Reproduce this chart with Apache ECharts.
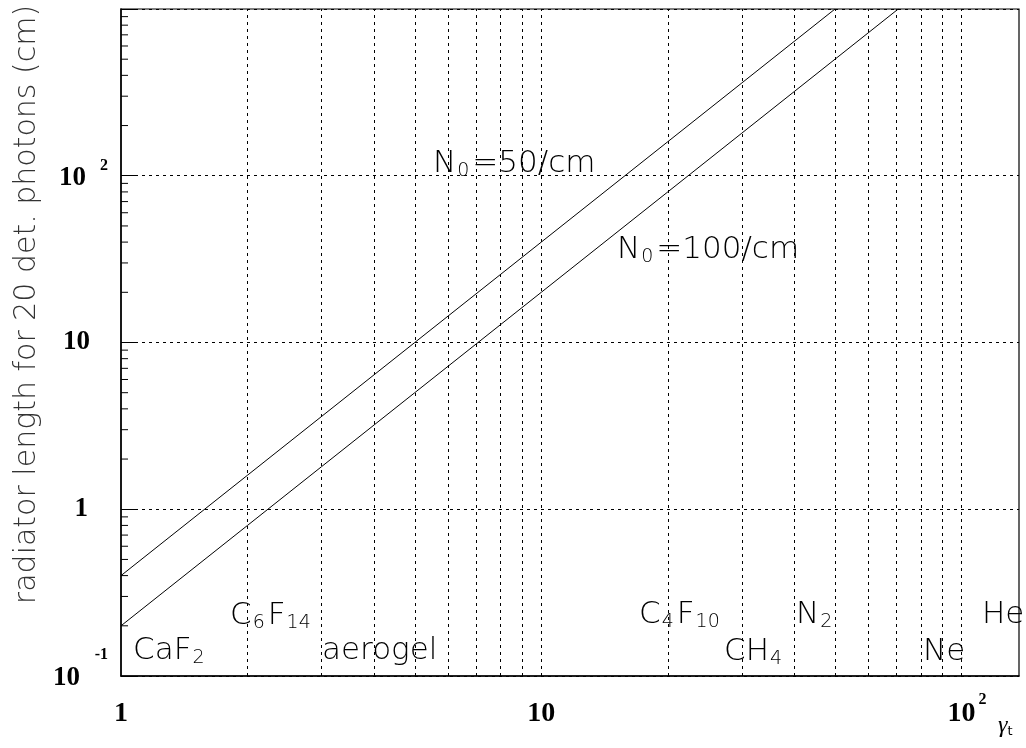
<!DOCTYPE html>
<html>
<head>
<meta charset="utf-8">
<script src="https://cdn.jsdelivr.net/npm/echarts@6/dist/echarts.min.js"></script>
<style>
  html, body { margin: 0; padding: 0; background: #fff; }
  #chart { width: 1026px; height: 748px; }
</style>
</head>
<body>
<div id="chart"></div>
<script>
// Radiator length needed for 20 detected photons vs. threshold gamma
const gammaN50 = [1, 2, 3, 5, 10, 20, 30, 50];
const lengthN50 = [0.4, 1.6, 3.6, 10, 40, 160, 360, 1000];
const gammaN100 = [1, 2, 3, 5, 10, 20, 30, 50, 70.7];
const lengthN100 = [0.2, 0.8, 1.8, 5, 20, 80, 180, 500, 1000];

// Dotted vertical grid at every 1..9 multiple of each decade
const gridGammas = [2, 3, 4, 5, 6, 7, 8, 9, 10, 20, 30, 40, 50, 60, 70, 80, 90, 100];
// Minor ticks on the length axis
const minorLengths = [0.2, 0.3, 0.4, 0.5, 0.6, 0.7, 0.8, 0.9,
                      2, 3, 4, 5, 6, 7, 8, 9,
                      20, 30, 40, 50, 60, 70, 80, 90,
                      200, 300, 400, 500, 600, 700, 800, 900];

// Tick labels
const xTickLabels = { 1: '{b|1}', 10: '{b|10}', 100: '{bx|10}{sx|2}' };
const yTickLabels = { 0.1: '{sm|-1}\n{bm|10}', 1: '{b1|1}', 10: '{b10|10}', 100: '{b|10}{s|2}' };

// Radiator names
const radiatorLabels = [
  '{t|CaF}{u|2}', '{t|C}{u|6}{t|F}{u|14}', '{t|aerogel}',
  '{t|C}{u|4}{t|F}{u|10}', '{t|CH}{u|4}', '{t|N}{u|2}', '{t|Ne}', '{t|He}'
];
const curveLabels = ['{t|N}{u|0}{t|=50/cm}', '{t|N}{u|0}{t|=100/cm}'];

const serif = 'Liberation Serif';
const thin = 'DejaVu Sans';
const thinColor = '#333';

function matchKey(map, v) {
  for (const k in map) {
    if (Math.abs(Math.log10(v) - Math.log10(+k)) < 1e-6) return map[k];
  }
  return '';
}

const textRich = {
  t: { fontFamily: thin, fontWeight: 200, fontSize: 31, color: thinColor, lineHeight: 34 },
  u: { fontFamily: thin, fontWeight: 200, fontSize: 19, color: thinColor, lineHeight: 4, verticalAlign: 'bottom', padding: [0, 3, 0, 1] }
};

function textEl(str, x, y) {
  return {
    type: 'text', x: x, y: y, silent: true,
    style: { text: str, rich: textRich, align: 'left', verticalAlign: 'middle' }
  };
}

const labelPos = [
  [133, 651], [230, 616], [322, 651], [639, 615],
  [724, 652], [796, 615], [923, 652], [982, 615]
];

const bold = { fontFamily: serif, fontWeight: 'bold', color: '#000' };

const chart = echarts.init(document.getElementById('chart'));
chart.setOption({
  animation: false,
  backgroundColor: '#fff',
  grid: {
    left: 121, top: 9, right: 7, bottom: 72,
    outerBoundsMode: 'none', containLabel: false,
    show: true, borderColor: '#000', borderWidth: 1.2
  },
  xAxis: {
    type: 'log', logBase: 10, min: 1, max: 137,
    axisLine: { show: true, lineStyle: { color: '#000', width: 1.5 } },
    axisTick: { show: false },
    splitLine: { show: false },
    axisLabel: {
      margin: 16,
      formatter: v => matchKey(xTickLabels, v),
      rich: {
        b: { ...bold, fontSize: 28, lineHeight: 28, padding: [16, 0, 0, 0] },
        bx: { ...bold, fontSize: 28, lineHeight: 28, padding: [16, 0, 0, 11] },
        sx: { ...bold, fontSize: 16, lineHeight: 2, verticalAlign: 'top', padding: [0, 0, 0, 3] }
      }
    }
  },
  yAxis: {
    type: 'log', logBase: 10, min: 0.1, max: 1000,
    name: 'radiator length for 20 det. photons (cm)',
    nameLocation: 'middle', nameGap: 75, nameRotate: 90,
    nameTextStyle: { fontFamily: thin, fontWeight: 200, fontSize: 30, color: thinColor, padding: [0, 0, 0, 76] },
    axisLine: { show: true, lineStyle: { color: '#000', width: 1.5 } },
    axisTick: { show: true, inside: true, length: 16, lineStyle: { color: '#000', width: 1 } },
    splitLine: { show: true, lineStyle: { color: '#000', width: 1, type: [3, 4] } },
    axisLabel: {
      margin: 13,
      formatter: v => matchKey(yTickLabels, v),
      rich: {
        b: { ...bold, fontSize: 27, lineHeight: 28, padding: [4, 0, 0, 0] },
        s: { ...bold, fontSize: 16, lineHeight: 14, height: 8, verticalAlign: 'top', padding: [0, 0, 0, 14] },
        b1: { ...bold, fontSize: 27, lineHeight: 28, padding: [0, 20, 0, 0] },
        b10: { ...bold, fontSize: 27, lineHeight: 28, padding: [0, 18, 0, 0] },
        sm: { ...bold, fontSize: 16, lineHeight: 14, align: 'right', padding: [0, 0, 14, 0] },
        bm: { ...bold, fontSize: 27, lineHeight: 28, align: 'right', padding: [0, 28, 10, 0] }
      }
    }
  },
  graphic: [
    ...radiatorLabels.map((s, i) => textEl(s, labelPos[i][0], labelPos[i][1])),
    textEl(curveLabels[0], 433, 164),
    textEl(curveLabels[1], 617, 250),
    {
      type: 'text', x: 998, y: 714, silent: true,
      style: {
        text: '{g|γ}{t|t}',
        rich: {
          g: { fontFamily: serif, fontStyle: 'italic', fontSize: 24, color: '#000', lineHeight: 24 },
          t: { fontFamily: thin, fontSize: 13, color: '#000', lineHeight: 4, verticalAlign: 'bottom' }
        }
      }
    }
  ],
  series: [
    {
      type: 'line', name: 'N0=50/cm',
      data: gammaN50.map((g, i) => [g, lengthN50[i]]),
      showSymbol: false, symbol: 'none', clip: true,
      lineStyle: { color: '#000', width: 1 },
      markLine: {
        silent: true, symbol: 'none', animation: false,
        label: { show: false },
        lineStyle: { color: '#000', width: 1, type: [3, 4] },
        data: gridGammas.map(g => ({ xAxis: g }))
      }
    },
    {
      type: 'line', name: 'N0=100/cm',
      data: gammaN100.map((g, i) => [g, lengthN100[i]]),
      showSymbol: false, symbol: 'none', clip: true,
      lineStyle: { color: '#000', width: 1 }
    },
    {
      type: 'custom', name: 'minor ticks', silent: true,
      data: minorLengths.map(v => [1, v]),
      renderItem: function (params, api) {
        const p = api.coord([api.value(0), api.value(1)]);
        return {
          type: 'line',
          shape: { x1: p[0], y1: p[1], x2: p[0] + 7, y2: p[1] },
          style: { stroke: '#000', lineWidth: 1 }
        };
      }
    }
  ]
});
</script>
</body>
</html>
